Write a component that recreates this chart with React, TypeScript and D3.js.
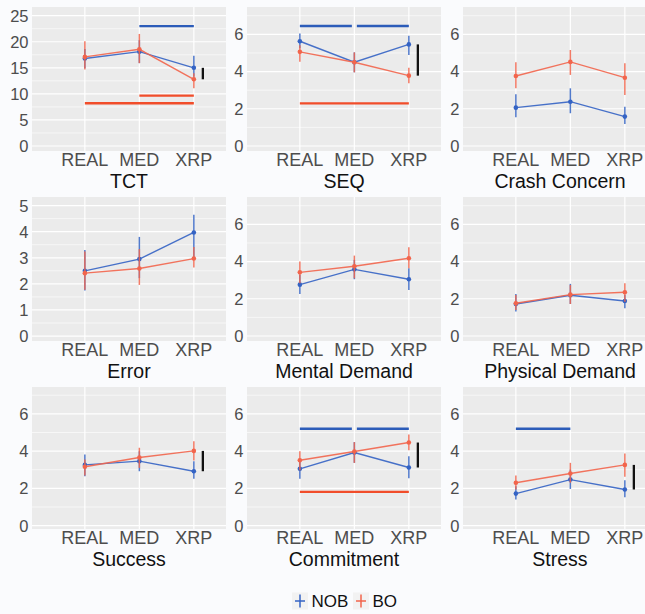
import React from 'react';
import * as d3 from 'd3';

const conditions = ['REAL', 'MED', 'XRP'];
const groups = ['NOB', 'BO'];

// each row: [mean, lower, upper] for REAL, MED, XRP
const tctNOB = [[16.8, 14.9, 18.6], [18.1, 15.9, 20.3], [15.0, 13.3, 17.3]];
const tctBO = [[17.1, 14.7, 20.1], [18.55, 15.9, 21.5], [12.8, 11.1, 13.95]];
const seqNOB = [[5.63, 5.25, 6.05], [4.5, 3.96, 5.03], [5.46, 4.89, 5.92]];
const seqBO = [[5.06, 4.53, 5.42], [4.5, 3.96, 5.03], [3.78, 3.37, 4.2]];
const crashNOB = [[2.06, 1.54, 2.78], [2.38, 1.76, 3.1], [1.58, 1.18, 2.11]];
const crashBO = [[3.76, 3.1, 4.5], [4.52, 3.82, 5.16], [3.67, 2.74, 4.45]];
const errorNOB = [[2.5, 1.75, 3.3], [2.95, 2.22, 3.8], [3.97, 2.99, 4.65]];
const errorBO = [[2.41, 1.77, 3.24], [2.59, 1.96, 3.33], [2.97, 2.63, 3.41]];
const mentalNOB = [[2.76, 2.26, 3.28], [3.58, 3.05, 4.09], [3.05, 2.47, 3.64]];
const mentalBO = [[3.42, 2.83, 4.0], [3.75, 3.1, 4.32], [4.18, 3.64, 4.77]];
const physicalNOB = [[1.72, 1.31, 2.26], [2.19, 1.72, 2.8], [1.88, 1.49, 2.2]];
const physicalBO = [[1.76, 1.4, 2.2], [2.22, 1.72, 2.74], [2.35, 1.84, 2.83]];
const successNOB = [[3.26, 2.65, 3.82], [3.46, 2.92, 3.99], [2.92, 2.51, 3.46]];
const successBO = [[3.16, 2.69, 3.55], [3.66, 3.1, 4.18], [4.01, 3.49, 4.53]];
const commitNOB = [[3.05, 2.51, 3.55], [3.92, 3.37, 4.48], [3.12, 2.54, 3.73]];
const commitBO = [[3.51, 2.97, 3.99], [3.98, 3.37, 4.48], [4.46, 4.05, 4.89]];
const stressNOB = [[1.72, 1.4, 2.11], [2.47, 1.97, 3.01], [1.94, 1.52, 2.44]];
const stressBO = [[2.3, 1.94, 2.69], [2.8, 2.3, 3.37], [3.26, 2.62, 3.87]];

// significance bars: [group, from, to, value]
const tctSig = [['NOB', 'MED', 'XRP', 23.0], ['BO', 'MED', 'XRP', 9.65], ['BO', 'REAL', 'XRP', 8.2]];
const seqSig = [['NOB', 'REAL', 'MED', 6.45], ['NOB', 'MED', 'XRP', 6.45], ['BO', 'REAL', 'XRP', 2.29]];
const commitSig = [['NOB', 'REAL', 'MED', 5.2], ['NOB', 'MED', 'XRP', 5.2], ['BO', 'REAL', 'XRP', 1.81]];
const stressSig = [['NOB', 'REAL', 'MED', 5.2]];

const tctTicks = [0, 5, 10, 15, 20, 25];
const errorTicks = [0, 1, 2, 3, 4, 5];
const likertTicks = [0, 2, 4, 6];

const W = 645;
const H = 614;
const colLeft = [32, 247, 463];
const panelW = 194;
const rowTop = [7, 197, 387];
const rowH = [144, 144, 142];
const FONT = 'Liberation Sans, Arial, Helvetica, sans-serif';
const colors = { NOB: '#3463c4', BO: '#f2654c' };
const sigColors = { NOB: '#2c5cb9', BO: '#f14d2a' };

const panels = [
  { title: 'TCT', NOB: tctNOB, BO: tctBO, domain: [-0.96, 26.67], ticks: tctTicks, sig: tctSig, diff: true },
  { title: 'SEQ', NOB: seqNOB, BO: seqBO, domain: [-0.27, 7.47], ticks: likertTicks, sig: seqSig, diff: true },
  { title: 'Crash Concern', NOB: crashNOB, BO: crashBO, domain: [-0.27, 7.47], ticks: likertTicks, sig: [], diff: false },
  { title: 'Error', NOB: errorNOB, BO: errorBO, domain: [-0.19, 5.33], ticks: errorTicks, sig: [], diff: false },
  { title: 'Mental Demand', NOB: mentalNOB, BO: mentalBO, domain: [-0.27, 7.47], ticks: likertTicks, sig: [], diff: false },
  { title: 'Physical Demand', NOB: physicalNOB, BO: physicalBO, domain: [-0.27, 7.47], ticks: likertTicks, sig: [], diff: false },
  { title: 'Success', NOB: successNOB, BO: successBO, domain: [-0.18, 7.44], ticks: likertTicks, sig: [], diff: true },
  { title: 'Commitment', NOB: commitNOB, BO: commitBO, domain: [-0.18, 7.44], ticks: likertTicks, sig: commitSig, diff: true },
  { title: 'Stress', NOB: stressNOB, BO: stressBO, domain: [-0.18, 7.44], ticks: likertTicks, sig: stressSig, diff: true },
];

const Panel = ({ p, i }) => {
  const col = i % 3;
  const row = Math.floor(i / 3);
  const left = colLeft[col];
  const top = rowTop[row];
  const h = rowH[row];

  const x = d3.scaleLinear().domain([0.03, 3.59]).range([left, left + panelW]);
  const xc = c => x(conditions.indexOf(c) + 1);
  const y = d3.scaleLinear().domain(p.domain).range([top + h, top]);

  const step = p.ticks[1] - p.ticks[0];
  const minor = d3
    .range(p.ticks[0] - step / 2, p.ticks[p.ticks.length - 1] + step, step)
    .filter(v => v > p.domain[0] && v < p.domain[1]);

  const line = d3
    .line()
    .x((d, k) => xc(conditions[k]))
    .y(d => y(d[0]));

  return (
    <g>
      <rect x={left} y={top} width={panelW} height={h} fill="#ebebeb" />
      {minor.map(v => (
        <line key={'mn' + v} x1={left} x2={left + panelW} y1={y(v)} y2={y(v)} stroke="#fff" strokeWidth={0.6} />
      ))}
      {p.ticks.map(v => (
        <line key={'mj' + v} x1={left} x2={left + panelW} y1={y(v)} y2={y(v)} stroke="#fff" strokeWidth={1.2} />
      ))}
      {conditions.map(c => (
        <line key={'v' + c} x1={xc(c)} x2={xc(c)} y1={top} y2={top + h} stroke="#fff" strokeWidth={1.2} />
      ))}
      {p.ticks.map(v => (
        <text key={'t' + v} x={left - 3.5} y={y(v)} dy="0.36em" textAnchor="end" fontSize={16.5} fill="#4d4d4d" fontFamily={FONT}>
          {v}
        </text>
      ))}
      {conditions.map(c => (
        <text key={'xl' + c} x={xc(c)} y={top + h + 15} textAnchor="middle" fontSize={18} fill="#4d4d4d" fontFamily={FONT}>
          {c}
        </text>
      ))}
      <text x={left + panelW / 2} y={top + h + 36.5} textAnchor="middle" fontSize={19.5} fill="#111" fontFamily={FONT}>
        {p.title}
      </text>

      {p.sig.map((s, k) => {
        const [g, from, to, v] = s;
        const shared = p.sig.filter((o, j) => j !== k && o[0] === g && o[3] === v);
        const insetL = shared.some(o => o[2] === from) ? 2.5 : 0;
        const insetR = shared.some(o => o[1] === to) ? 2.5 : 0;
        return (
          <line key={'s' + k} x1={xc(from) + insetL} x2={xc(to) - insetR} y1={y(v)} y2={y(v)} stroke={sigColors[g]} strokeWidth={2.3} />
        );
      })}

      {groups.map(g => (
        <g key={g}>
          {p[g].map((d, k) => (
            <line key={'e' + k} x1={xc(conditions[k])} x2={xc(conditions[k])} y1={y(d[1])} y2={y(d[2])} stroke={colors[g]} strokeWidth={1.5} opacity={0.85} />
          ))}
          <path d={line(p[g])} fill="none" stroke={colors[g]} strokeWidth={1.4} opacity={0.9} />
          {p[g].map((d, k) => (
            <circle key={'p' + k} cx={xc(conditions[k])} cy={y(d[0])} r={2.3} fill={colors[g]} />
          ))}
        </g>
      ))}

      {p.diff && (
        <line x1={xc('XRP') + 9} x2={xc('XRP') + 9} y1={y(p.NOB[2][0])} y2={y(p.BO[2][0])} stroke="#111" strokeWidth={2.3} />
      )}
    </g>
  );
};

const Legend = () => {
  const keyX = [300, 361];
  const cy = 601;
  return (
    <g>
      {groups.map((g, k) => (
        <g key={g}>
          <rect x={keyX[k] - 8} y={cy - 8.5} width={16} height={17} fill="#f2f2f2" />
          <line x1={keyX[k]} x2={keyX[k]} y1={cy - 6.5} y2={cy + 6.5} stroke={colors[g]} strokeWidth={1.5} />
          <line x1={keyX[k] - 5} x2={keyX[k] + 5} y1={cy} y2={cy} stroke={colors[g]} strokeWidth={1.5} />
          <text x={keyX[k] + 11.5} y={cy + 6.3} fontSize={17} fill="#111" fontFamily={FONT}>
            {g}
          </text>
        </g>
      ))}
    </g>
  );
};

export default function App() {
  return (
    <svg width={W} height={H} style={{ position: 'absolute', left: 0, top: 0, background: '#fafbfd' }}>
      {panels.map((p, i) => (
        <Panel key={p.title} p={p} i={i} />
      ))}
      <Legend />
    </svg>
  );
}
